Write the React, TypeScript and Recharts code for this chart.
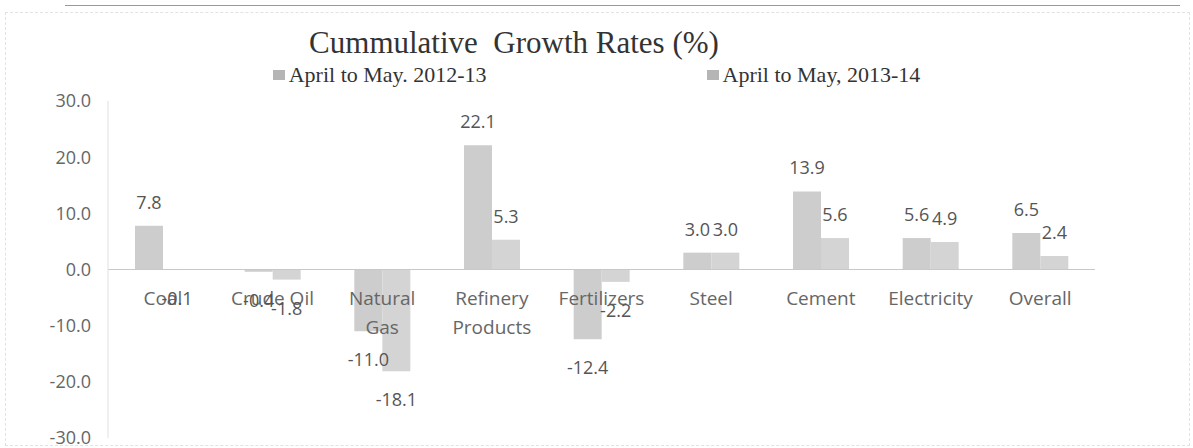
import React from 'react';
import { BarChart, Bar, XAxis, YAxis, ReferenceLine, LabelList, Legend } from 'recharts';

// categories and growth rates (%)
const categories = ['Coal', 'Crude Oil', 'Natural\nGas', 'Refinery\nProducts', 'Fertilizers', 'Steel', 'Cement', 'Electricity', 'Overall'];
const growth2012 = [7.8, -0.4, -11.0, 22.1, -12.4, 3.0, 13.9, 5.6, 6.5];
const growth2013 = [-0.1, -1.8, -18.1, 5.3, -2.2, 3.0, 5.6, 4.9, 2.4];
const seriesNames = ['April to May. 2012-13', 'April to May, 2013-14'];
const yTicks = [-30, -20, -10, 0, 10, 20, 30];

const W = 1193;
const H = 448;
const margin = { top: 101, right: 98, bottom: 8, left: 18 };
const X_AXIS_H = 2;
const plotH = H - margin.top - margin.bottom - X_AXIS_H;

const SANS = '"Open Sans", sans-serif';
const SERIF = '"Liberation Serif", "Times New Roman", serif';
const BAR_1 = '#cdcdcd';
const BAR_2 = '#d4d4d4';

const data = categories.map((name, i) => ({
  name,
  a: growth2012[i],
  b: growth2013[i],
}));

// category labels sit just under the zero line, like Excel's "next to axis"
function CategoryTick(props: any) {
  const { x, y, payload } = props;
  const zeroY = y - plotH / 2; // domain is symmetric, zero is mid-plot
  const lines = String(payload.value).split('\n');
  return (
    <text x={x} y={zeroY + 29} textAnchor="middle" fill="#666" fontFamily={SANS} fontSize={19}>
      {lines.map((l, i) => (
        <tspan key={i} x={x} dy={i === 0 ? '0.35em' : 29}>{l}</tspan>
      ))}
    </text>
  );
}

function ValueLabel(props: any) {
  const { x, y, width, height, value } = props;
  const top = Math.min(y, y + height);
  const bottom = Math.max(y, y + height);
  const cy = value >= 0 ? top - 24 : bottom + 28;
  return (
    <text x={x + width / 2} y={cy} textAnchor="middle" dominantBaseline="central"
      fill="#555" fontFamily={SANS} fontSize={18}>
      {Number(value).toFixed(1)}
    </text>
  );
}

function LegendBox(props: any) {
  const items = [...(props.payload || [])].sort((p: any, q: any) => String(p.dataKey).localeCompare(String(q.dataKey)));
  return (
    <div style={{ display: 'flex', justifyContent: 'center', gap: 220 }}>
      {items.map((it: any) => (
        <div key={it.value} style={{ display: 'flex', alignItems: 'center', gap: 4 }}>
          <span style={{ width: 12, height: 10, background: '#b5b5b5', display: 'inline-block' }} />
          <span style={{ fontFamily: SERIF, fontSize: 22, color: '#333', lineHeight: 1 }}>{it.value}</span>
        </div>
      ))}
    </div>
  );
}

export default function App() {
  return (
    <div style={{ position: 'fixed', left: 0, top: 0, width: W, height: H, background: '#fff', overflow: 'hidden' }}>
      {/* scan frame */}
      <div style={{ position: 'absolute', left: 65, top: 5, width: 1115, height: 0, borderTop: '1px solid #999' }} />
      <div style={{ position: 'absolute', left: 5, top: 12, width: 1183, height: 432, border: '1px dashed #e2e2e2' }} />
      <div style={{
        position: 'absolute', left: 0, top: 27, width: 1028, textAlign: 'center',
        fontFamily: SERIF, fontSize: 31, lineHeight: 1, color: '#333',
      }}>
        Cummulative&nbsp; Growth Rates (%)
      </div>
      <BarChart width={W} height={H} data={data} margin={margin} barSize={28} barGap={0}>
        <Legend verticalAlign="middle" content={<LegendBox />}
          wrapperStyle={{ top: 64, left: 0, width: W }} />
        <XAxis dataKey="name" height={X_AXIS_H} axisLine={false} tickLine={false}
          tickSize={0} tickMargin={0} interval={0} tick={<CategoryTick />} />
        <YAxis width={90} domain={[-30, 30]} ticks={yTicks} interval={0}
          tickFormatter={(v: number) => v.toFixed(1)} tickLine={false} tickSize={0} tickMargin={17}
          axisLine={{ stroke: '#e0e0e0' }}
          tick={{ fill: '#666', fontFamily: SANS, fontSize: 18 }} />
        <ReferenceLine y={0} stroke="#c8c8c8" />
        <Bar dataKey="a" name={seriesNames[0]} fill={BAR_1} isAnimationActive={false}>
          <LabelList dataKey="a" content={<ValueLabel />} />
        </Bar>
        <Bar dataKey="b" name={seriesNames[1]} fill={BAR_2} isAnimationActive={false}>
          <LabelList dataKey="b" content={<ValueLabel />} />
        </Bar>
      </BarChart>
    </div>
  );
}
